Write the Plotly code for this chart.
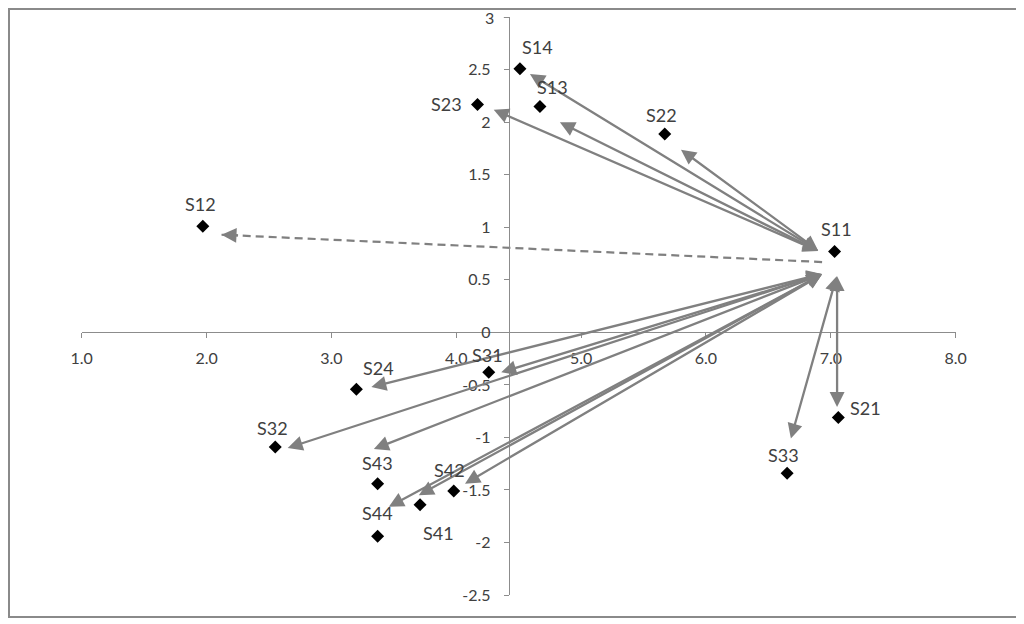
import plotly.graph_objects as go

# ---- data ----
names = ["S11", "S12", "S13", "S14", "S21", "S22", "S23", "S24",
         "S31", "S32", "S33", "S41", "S42", "S43", "S44"]
xs = [7.03, 1.97, 4.67, 4.51, 7.06, 5.67, 4.17, 3.20,
      4.26, 2.55, 6.65, 3.71, 3.98, 3.37, 3.37]
ys = [0.77, 1.01, 2.15, 2.51, -0.81, 1.89, 2.17, -0.54,
      -0.38, -1.09, -1.34, -1.64, -1.51, -1.44, -1.94]

# arrows (solid, double headed): tail -> head
arrow_from_x = [6.91, 6.91, 6.91, 6.91, 6.94, 6.94, 6.94, 6.94, 6.94, 6.94, 6.94, 7.05, 7.05]
arrow_from_y = [0.77, 0.77, 0.77, 0.77, 0.56, 0.56, 0.56, 0.56, 0.56, 0.56, 0.56, 0.55, 0.55]
arrow_to_x = [4.59, 4.83, 4.30, 5.80, 3.32, 4.36, 2.65, 3.34, 4.07, 3.70, 3.46, 7.05, 6.68]
arrow_to_y = [2.46, 2.00, 2.12, 1.74, -0.52, -0.38, -1.10, -1.11, -1.44, -1.55, -1.66, -0.71, -1.01]

# dashed arrow (single head toward S12)
dash_from = (6.93, 0.67)
dash_to = (2.12, 0.93)

x_ticks = [1, 2, 3, 4, 5, 6, 7, 8]
y_ticks = [-2.5, -2, -1.5, -1, -0.5, 0, 0.5, 1, 1.5, 2, 2.5, 3]
y_tick_text = ["-2.5", "-2", "-1.5", "-1", "-0.5", "0", "0.5", "1", "1.5", "2", "2.5", "3"]
x_range = [1, 8]
y_range = [-2.5, 3]
x_cross = 4.42   # where the vertical axis crosses the horizontal axis
y_cross = 0

# label offsets in pixels (style)
label_shift = {
    "S11": (2, 23), "S12": (-2, 22), "S13": (13, 20), "S14": (18, 22),
    "S21": (27, 9), "S22": (-3, 19), "S23": (-31, 0), "S24": (22, 21),
    "S31": (-1, 17), "S32": (-3, 19), "S33": (-4, 18), "S41": (18, -28),
    "S42": (-4, 21), "S43": (0, 21), "S44": (0, 23),
}

# page body has an 8px margin, so the figure is 8px smaller and everything shifted
OFF = 8
W, H = 1024 - OFF, 624 - OFF
FONT = "Lato"
TXT = "#404040"
GRAY = "#808080"
AXC = "#8c8c8c"

xdom = [(81.7 - OFF) / W, (955.7 - OFF) / W]
ydom = [1 - (595.0 - OFF) / H, 1 - (17.3 - OFF) / H]
xpos = xdom[0] + (x_cross - x_range[0]) / (x_range[1] - x_range[0]) * (xdom[1] - xdom[0])
ypos = ydom[0] + (y_cross - y_range[0]) / (y_range[1] - y_range[0]) * (ydom[1] - ydom[0])

fig = go.Figure()

# dashed line
fig.add_trace(go.Scatter(
    x=[dash_from[0], dash_to[0]], y=[dash_from[1], dash_to[1]],
    mode="lines", line=dict(color=GRAY, width=2.2, dash="8px,5px"),
    hoverinfo="skip", showlegend=False))

# points
fig.add_trace(go.Scatter(
    x=xs, y=ys, mode="markers",
    marker=dict(symbol="diamond", size=10, color="black"),
    showlegend=False, hovertext=names))

annotations = []
for fx, fy, tx, ty in zip(arrow_from_x, arrow_from_y, arrow_to_x, arrow_to_y):
    annotations.append(dict(
        x=tx, y=ty, ax=fx, ay=fy, xref="x", yref="y", axref="x", ayref="y",
        text="", showarrow=True, arrowhead=2, startarrowhead=2,
        arrowside="end+start", arrowsize=1.3, startarrowsize=1.3,
        arrowwidth=2.3, arrowcolor=GRAY, standoff=0, startstandoff=0))

# head of the dashed arrow
dxv = dash_from[0] - dash_to[0]
dyv = dash_from[1] - dash_to[1]
annotations.append(dict(
    x=dash_to[0], y=dash_to[1],
    ax=dash_to[0] + dxv * 0.03, ay=dash_to[1] + dyv * 0.03,
    xref="x", yref="y", axref="x", ayref="y",
    text="", showarrow=True, arrowhead=2, arrowsize=1.3, arrowwidth=2.3,
    arrowcolor=GRAY, standoff=0))

for n, x, y in zip(names, xs, ys):
    sx, sy = label_shift[n]
    annotations.append(dict(
        x=x, y=y, xref="x", yref="y", text=n, showarrow=False,
        xshift=sx, yshift=sy, font=dict(family=FONT, size=18, color=TXT)))

# the top tick label of the y axis is added as text at its tick value
# (plotly drops the end tick of a free-positioned axis)
top_tick = y_ticks[-1]
annotations.append(dict(
    x=0, xref="paper", xshift=0, y=top_tick, yref="y",
    text=y_tick_text[-1], showarrow=False, xanchor="right",
    font=dict(family=FONT, size=16, color=TXT)))

fig.update_layout(
    width=W, height=H,
    margin=dict(l=0, r=0, t=0, b=0, autoexpand=False),
    paper_bgcolor="white", plot_bgcolor="white",
    showlegend=False,
    annotations=annotations,
    shapes=[dict(type="rect", xref="paper", yref="paper",
                 x0=1.0 / W, x1=(1018.0 - OFF) / W,
                 y0=1 - (617.0 - OFF) / H, y1=1 - 1.0 / H,
                 line=dict(color="#8a8a8a", width=2), fillcolor="rgba(0,0,0,0)",
                 layer="below"),
            # tick mark of the top y tick
            dict(type="line", xref="paper", yref="y",
                 x0=xpos, x1=xpos - 5.0 / W, y0=top_tick, y1=top_tick,
                 line=dict(color=AXC, width=1))],
    xaxis=dict(range=x_range, domain=xdom,
               anchor="free", position=ypos,
               tickvals=x_ticks, tickformat=".1f",
               showgrid=False, zeroline=False, showline=True,
               linecolor=AXC, linewidth=1, ticks="outside", ticklen=5,
               tickcolor=AXC, ticklabelstandoff=6,
               tickfont=dict(family=FONT, size=16, color=TXT)),
    yaxis=dict(range=y_range, domain=ydom,
               anchor="free", position=xpos,
               tickvals=y_ticks, ticktext=y_tick_text,
               showgrid=False, zeroline=False, showline=True,
               linecolor=AXC, linewidth=1, ticks="outside", ticklen=5,
               tickcolor=AXC, ticklabelstandoff=10,
               tickfont=dict(family=FONT, size=16, color=TXT)),
)

# place the top label next to the axis: annotation x in paper coords
fig.layout.annotations[-1].x = xpos - 13.0 / W

fig.write_html("out.html")
